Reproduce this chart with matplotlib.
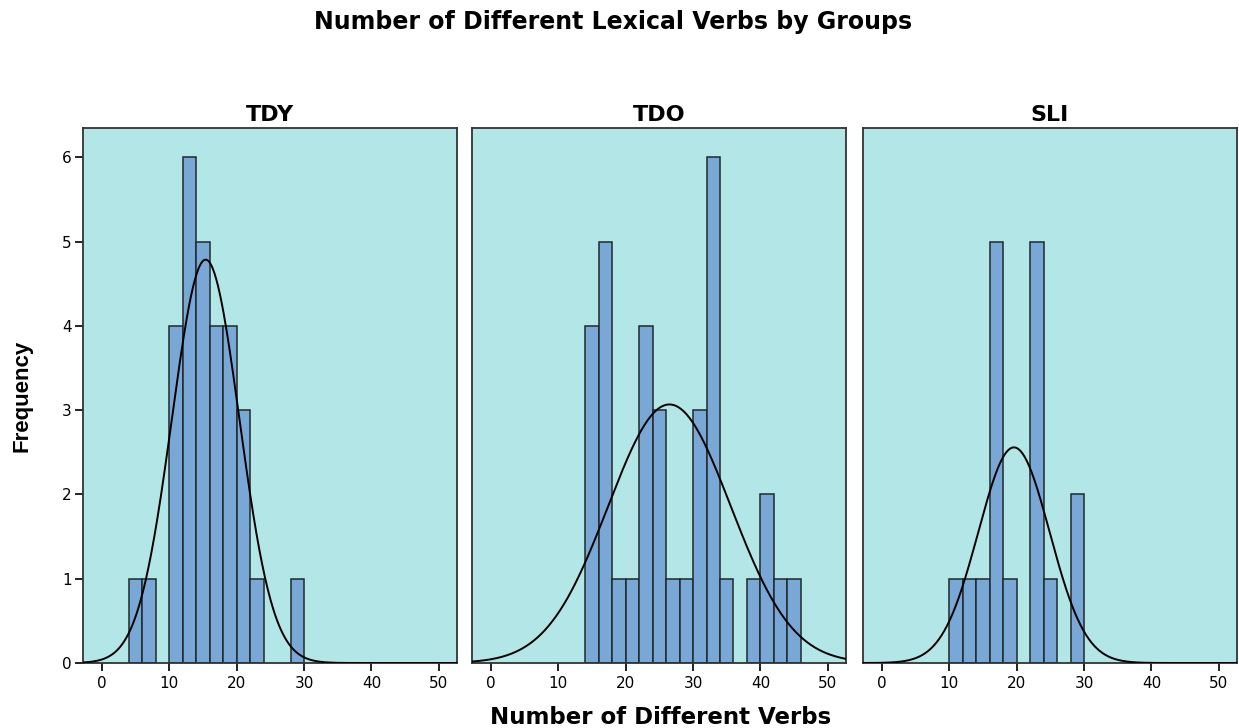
import matplotlib

matplotlib.use("Agg")
import matplotlib.pyplot as plt
import numpy as np

GROUPS = ["TDY", "TDO", "SLI"]

# histogram bins (left edge, width 2) and counts
TDY_EDGES = [4, 6, 10, 12, 14, 16, 18, 20, 22, 28]
TDY_COUNTS = [1, 1, 4, 6, 5, 4, 4, 3, 1, 1]
TDO_EDGES = [14, 16, 18, 20, 22, 24, 26, 28, 30, 32, 34, 38, 40, 42, 44]
TDO_COUNTS = [4, 5, 1, 1, 4, 3, 1, 1, 3, 6, 1, 1, 2, 1, 1]
SLI_EDGES = [10, 12, 14, 16, 18, 22, 24, 28]
SLI_COUNTS = [1, 1, 1, 5, 1, 5, 1, 2]

BIN_WIDTH = 2

# normal curve parameters (mean, sd) estimated from the drawn curves
CURVE_MEAN = [15.4, 26.5, 19.6]
CURVE_SD = [5.0, 9.1, 5.3]

X_TICKS = [0, 10, 20, 30, 40, 50]
Y_TICKS = [0, 1, 2, 3, 4, 5, 6]

BG = "#b3e6e6"
BAR = "#79a8d6"
EDGE = "#1f2a2a"

plt.rcParams["font.family"] = ["DejaVu Sans"]

fig = plt.figure(figsize=(12.39, 7.28), dpi=100)

lefts = [83, 472, 863]
width_px = 374
bottom_px, top_px = 663, 128

data = [(TDY_EDGES, TDY_COUNTS), (TDO_EDGES, TDO_COUNTS), (SLI_EDGES, SLI_COUNTS)]

for i, group in enumerate(GROUPS):
    left = lefts[i] / 1239
    ax = fig.add_axes([left, 1 - bottom_px / 728, width_px / 1239, (bottom_px - top_px) / 728])
    ax.set_facecolor(BG)
    edges, counts = data[i]
    ax.bar(edges, counts, width=BIN_WIDTH, align="edge", color=BAR, edgecolor=EDGE, linewidth=1.1, zorder=2)

    n = sum(counts)
    xs = np.linspace(-2.8, 52.7, 400)
    mu, sd = CURVE_MEAN[i], CURVE_SD[i]
    ys = n * BIN_WIDTH / (sd * np.sqrt(2 * np.pi)) * np.exp(-0.5 * ((xs - mu) / sd) ** 2)
    ax.plot(xs, ys, color="black", linewidth=1.4, zorder=3)

    ax.set_xlim(-2.8, 52.7)
    ax.set_ylim(0, 6.35)
    ax.set_xticks(X_TICKS)
    ax.tick_params(axis="x", direction="out", length=6, width=1.4, labelsize=11, color="#222222", pad=3)
    if i == 0:
        ax.set_yticks(Y_TICKS)
        ax.tick_params(axis="y", direction="out", length=6, width=1.4, labelsize=11, color="#222222", pad=2)
    else:
        ax.set_yticks([])
    for spine in ax.spines.values():
        spine.set_color("#333333")
        spine.set_linewidth(1.3)
    ax.set_title(group, fontsize=16, fontweight="bold", pad=5)

fig.text(613 / 1239, 1 - 22 / 728, "Number of Different Lexical Verbs by Groups",
         ha="center", va="center", fontsize=17, fontweight="bold")
fig.text(661 / 1239, 1 - 717 / 728, "Number of Different Verbs",
         ha="center", va="center", fontsize=16.5, fontweight="bold")
fig.text(22 / 1239, 1 - 396 / 728, "Frequency", rotation=90,
         ha="center", va="center", fontsize=16, fontweight="bold",
         family=["Liberation Sans Narrow", "Liberation Sans"])

fig.savefig("out.png", dpi=100)
